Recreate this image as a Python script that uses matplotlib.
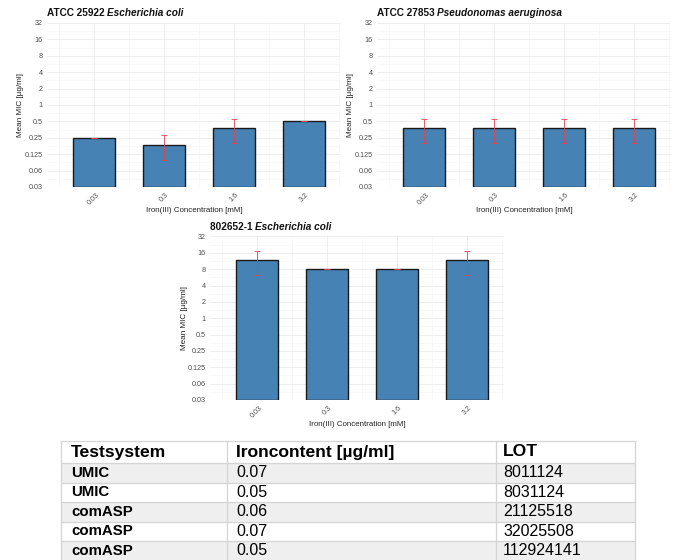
import numpy as np
import matplotlib
matplotlib.use("Agg")
import matplotlib.pyplot as plt
from matplotlib.patches import Rectangle

plt.rcParams["font.family"] = ["Liberation Sans", "DejaVu Sans"]

# ---- data -------------------------------------------------------------
concentrations = ["0.03", "0.3", "1.6", "3.2"]

mic_atcc25922 = [0.25, 0.1875, 0.375, 0.5]
sd_atcc25922 = [0.0, 0.0884, 0.1768, 0.0]

mic_atcc27853 = [0.375, 0.375, 0.375, 0.375]
sd_atcc27853 = [0.1768, 0.1768, 0.1768, 0.1768]

mic_802652 = [12.0, 8.0, 8.0, 12.0]
sd_802652 = [5.657, 0.0, 0.0, 5.657]

y_tick_values = [0.03125, 0.0625, 0.125, 0.25, 0.5, 1, 2, 4, 8, 16, 32]
y_tick_labels = ["0.03", "0.06", "0.125", "0.25", "0.5", "1", "2", "4", "8", "16", "32"]

table_header = ["Testsystem", "Ironcontent [µg/ml]", "LOT"]
table_system = ["UMIC", "UMIC", "comASP", "comASP", "comASP"]
table_iron = ["0.07", "0.05", "0.06", "0.07", "0.05"]
table_lot = ["8011124", "8031124", "21125518", "32025508", "112924141"]

# ---- figure -----------------------------------------------------------
W, H = 681, 560
DPI = 100
fig = plt.figure(figsize=(W / DPI, H / DPI), dpi=DPI)
fig.patch.set_facecolor("white")


def px_rect(left, top, right, bottom):
    return [left / W, 1 - bottom / H, (right - left) / W, (bottom - top) / H]


# full-figure overlay used for the table, in pixel units
ax_t = fig.add_axes([0, 0, 1, 1])
ax_t.set_xlim(0, W)
ax_t.set_ylim(H, 0)
ax_t.axis("off")

BAR_COLOR = "#4682B4"
ERR_COLOR = "#E0454F"
YMIN, YMAX = 2 ** -5, 2 ** 5


def mic_panel(left, top, right, bottom, strain, species, means, sds):
    ax = fig.add_axes(px_rect(left, top, right, bottom))
    x = np.arange(1, len(concentrations) + 1)
    means = np.asarray(means)
    sds = np.asarray(sds)

    ax.set_yscale("log", base=2)
    ax.set_ylim(YMIN, YMAX)
    ax.set_xlim(0.33, 4.53)

    # grid (major + minor), theme_minimal style
    for yv in y_tick_values:
        ax.axhline(yv, color="#EBEBEB", lw=0.6, zorder=0)
    for k in range(-5, 5):
        ax.axhline(2 ** (k + 0.5), color="#F4F4F4", lw=0.4, zorder=0)
    for xv in x:
        ax.axvline(xv, color="#EBEBEB", lw=0.6, zorder=0)
    for xv in np.arange(0.5, len(x) + 1, 1.0):
        ax.axvline(xv, color="#F4F4F4", lw=0.4, zorder=0)

    ax.bar(x, means - YMIN, bottom=YMIN, width=0.6, color=BAR_COLOR,
           edgecolor="#1a1a1a", linewidth=1.0, zorder=2)
    ax.errorbar(x, means, yerr=sds, fmt="none", ecolor=ERR_COLOR,
                elinewidth=0.7, capsize=2.5, capthick=0.7, alpha=0.85, zorder=3)

    for s in ax.spines.values():
        s.set_visible(False)
    ax.set_yticks(y_tick_values)
    ax.set_yticklabels(y_tick_labels)
    ax.minorticks_off()
    ax.set_xticks(x)
    ax.set_xticklabels(concentrations, rotation=45, ha="center")
    ax.tick_params(axis="both", length=0, labelsize=5.2, colors="#4D4D4D")
    ax.tick_params(axis="y", pad=3)
    ax.tick_params(axis="x", pad=3)

    # title: bold strain id followed by bold-italic species
    t1 = fig.text(left / W, 1 - (top - 10) / H, strain + " ",
                  fontsize=7.2, fontweight="bold", va="center", ha="left",
                  color="#111111")
    ax.annotate(species, xy=(1, 0.5), xycoords=t1, va="center", ha="left",
                fontsize=7.2, fontweight="bold", fontstyle="italic",
                color="#111111", annotation_clip=False)

    fig.text((left + right) / 2 / W, 1 - (bottom + 24) / H,
             "Iron(III) Concentration [mM]", fontsize=5.7, ha="center",
             va="center", color="#222222")
    fig.text((left - 26) / W, 1 - (top + bottom) / 2 / H, "Mean MIC [µg/ml]",
             fontsize=5.9, rotation=90, ha="center", va="center",
             color="#222222")
    return ax


mic_panel(47, 23, 341, 187, "ATCC 25922", "Escherichia coli",
          mic_atcc25922, sd_atcc25922)
mic_panel(377, 23, 671, 187, "ATCC 27853", "Pseudonomas aeruginosa",
          mic_atcc27853, sd_atcc27853)
mic_panel(210, 236.5, 504, 400, "802652-1", "Escherichia coli",
          mic_802652, sd_802652)

# ---- table ------------------------------------------------------------
col_edges = [61, 227, 496, 635]
row_edges = [441, 463, 482.5, 502, 521.5, 541, 560.5]
text_x = [71, 236, 503]
line_c = "#D4D4D4"

for i in range(len(table_system)):
    top, bot = row_edges[i + 1], row_edges[i + 2]
    face = "#EFEFEF" if i % 2 == 0 else "white"
    ax_t.add_patch(Rectangle((col_edges[0], top), col_edges[-1] - col_edges[0],
                             bot - top, facecolor=face, edgecolor="none", zorder=1))

for yv in row_edges:
    ax_t.plot([col_edges[0], col_edges[-1]], [yv, yv], color=line_c, lw=0.9, zorder=2)
for xv in col_edges:
    ax_t.plot([xv, xv], [row_edges[0], row_edges[-1]], color=line_c, lw=0.9, zorder=2)

hy = (row_edges[0] + row_edges[1]) / 2
for cx, label in zip(text_x, table_header):
    ax_t.text(cx, hy, label, fontsize=12.6, fontweight="bold", ha="left",
              va="center", color="black", zorder=3)

for i, (sysname, iron, lot) in enumerate(zip(table_system, table_iron, table_lot)):
    cy = (row_edges[i + 1] + row_edges[i + 2]) / 2
    ax_t.text(text_x[0], cy, sysname, fontsize=10.8, fontweight="bold",
              ha="left", va="center", color="black", zorder=3)
    ax_t.text(text_x[1], cy, iron, fontsize=11.5, ha="left", va="center",
              color="black", zorder=3)
    ax_t.text(text_x[2], cy, lot, fontsize=11.5, ha="left", va="center",
              color="black", zorder=3)

fig.savefig("out.png", dpi=DPI, facecolor="white")
